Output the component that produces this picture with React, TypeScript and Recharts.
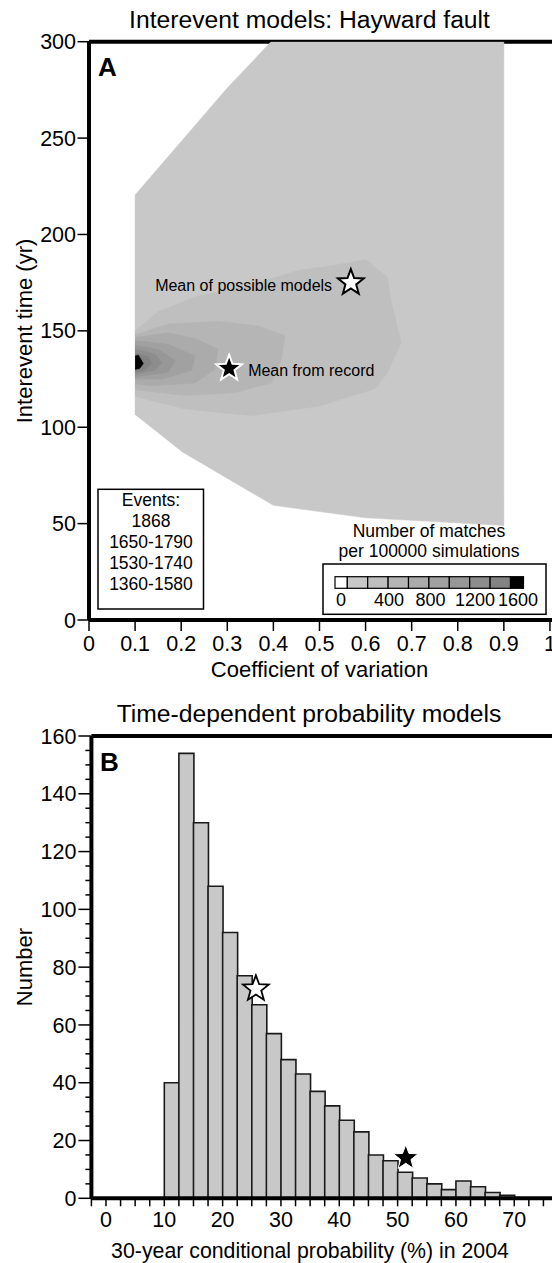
import React from 'react';
import { ComposedChart, XAxis, YAxis, Scatter, Bar } from 'recharts';

const FONT = '"Liberation Sans", Arial, Helvetica, sans-serif';

// ---------------- Panel A data ----------------
const cvTicks = [0, 0.1, 0.2, 0.3, 0.4, 0.5, 0.6, 0.7, 0.8, 0.9, 1];
const cvTickLabels = ['0', '0.1', '0.2', '0.3', '0.4', '0.5', '0.6', '0.7', '0.8', '0.9', '1'];
const yearTicks = [0, 50, 100, 150, 200, 250, 300];

// contour outlines, [coefficient of variation, interevent time]
const level1 = [[0.1, 106.5], [0.1, 220.5], [0.3, 276], [0.395, 300], [0.9, 300], [0.9, 49], [0.6, 53], [0.4, 59.5], [0.2, 87.5]];
const level2 = [[0.1, 150], [0.15, 160], [0.235, 168], [0.34, 173], [0.456, 181.5], [0.533, 184], [0.6, 187], [0.647, 178], [0.655, 166], [0.677, 144], [0.647, 128], [0.62, 120], [0.5, 111], [0.353, 106], [0.208, 109.5], [0.1, 116]];
const level3 = [[0.1, 148], [0.172, 153.5], [0.28, 155], [0.367, 152.5], [0.425, 147.5], [0.418, 135.5], [0.396, 123], [0.317, 118], [0.208, 116.5], [0.1, 119.5]];
const level4 = [[0.1, 146.5], [0.172, 149], [0.23, 146], [0.28, 140.5], [0.273, 130], [0.23, 123], [0.136, 121.5], [0.1, 122.5]];
const level5 = [[0.1, 145], [0.172, 143], [0.23, 137], [0.223, 129.5], [0.158, 125], [0.1, 125]];
const level6 = [[0.1, 142.5], [0.15, 140.5], [0.187, 134.5], [0.172, 128.5], [0.1, 126]];
const level7 = [[0.1, 140.5], [0.143, 138], [0.158, 133.5], [0.143, 129.5], [0.1, 127.5]];
const level8 = [[0.1, 138.5], [0.129, 136.5], [0.136, 133], [0.121, 129.5], [0.1, 128.5]];
const level9 = [[0.1, 137], [0.107, 137.5], [0.118, 133], [0.11, 130.5], [0.1, 130]];
const contourLevels = [level1, level2, level3, level4, level5, level6, level7, level8, level9];
const contourFills = ['#c8c8c8', '#bfbfbf', '#b5b5b5', '#ababab', '#a1a1a1', '#979797', '#8d8d8d', '#838383', '#000000'];

const meanPossible = { x: 0.568, y: 175, label: 'Mean of possible models' };
const meanRecord = { x: 0.304, y: 130.5, label: 'Mean from record' };

const eventLines = ['Events:', '1868', '1650-1790', '1530-1740', '1360-1580'];
const legendTitle = ['Number of matches', 'per 100000 simulations'];
const legendTickValues = [0, 400, 800, 1200, 1600];
const legendFills = ['#ffffff', '#c8c8c8', '#bfbfbf', '#b5b5b5', '#ababab', '#a1a1a1', '#979797', '#8d8d8d', '#838383', '#000000'];

// ---------------- Panel B data ----------------
const binStarts = [10, 12.5, 15, 17.5, 20, 22.5, 25, 27.5, 30, 32.5, 35, 37.5, 40, 42.5, 45, 47.5, 50, 52.5, 55, 57.5, 60, 62.5, 65, 67.5];
const binCounts = [40, 154, 130, 108, 92, 77, 67, 57, 48, 43, 37, 32, 27, 23, 15, 13, 9, 7, 5, 3, 6, 4, 2, 1];
const probTicks = Array.from({ length: 33 }, (_, i) => -2.5 + i * 2.5);
const probLabelTicks = [0, 10, 20, 30, 40, 50, 60, 70];
const countTicks = Array.from({ length: 33 }, (_, i) => i * 5);
const countLabelTicks = [0, 20, 40, 60, 80, 100, 120, 140, 160];
const starPossibleB = { x: 25.7, y: 72.5 };
const starRecordB = { x: 51.4, y: 14 };

// one category per 2.5% bin across the whole axis (empty bins have no bar)
const histData = probTicks.slice(0, -1).map((s) => {
  const k = binStarts.indexOf(s);
  return { bin: String(s), count: k >= 0 ? binCounts[k] : null };
});

// ---------------- helpers ----------------
function starPoints(cx: number, cy: number, r: number) {
  const pts: string[] = [];
  for (let i = 0; i < 10; i++) {
    const rad = i % 2 === 0 ? r : r * 0.42;
    const a = -Math.PI / 2 + (i * Math.PI) / 5;
    pts.push(`${cx + rad * Math.cos(a)},${cy + rad * Math.sin(a)}`);
  }
  return pts.join(' ');
}

const axisLine = { stroke: '#000', strokeWidth: 4 };
const TICK_FS = 21.5;

const CvTick = (p: any) => {
  const idx = cvTicks.indexOf(p.payload.value);
  return (
    <g>
      <line x1={p.x} y1={p.y} x2={p.x} y2={p.y + 11} stroke="#000" strokeWidth={1.5} />
      <text x={p.x} y={p.y + 31} textAnchor="middle" fontSize={TICK_FS} fontFamily={FONT} fill="#000">
        {idx >= 0 ? cvTickLabels[idx] : ''}
      </text>
    </g>
  );
};

const YearTick = (p: any) => (
  <g>
    <line x1={p.x - 11.5} y1={p.y} x2={p.x} y2={p.y} stroke="#000" strokeWidth={1.5} />
    <text x={p.x - 13} y={p.y + 7.6} textAnchor="end" fontSize={TICK_FS} fontFamily={FONT} fill="#000">
      {p.payload.value}
    </text>
  </g>
);

const ProbTick = (p: any) => {
  const v = p.payload.value;
  const lab = probLabelTicks.includes(v);
  return (
    <g>
      <line x1={p.x} y1={p.y} x2={p.x} y2={p.y + 8} stroke="#000" strokeWidth={1.5} />
      {lab && (
        <text x={p.x} y={p.y + 29} textAnchor="middle" fontSize={TICK_FS} fontFamily={FONT} fill="#000">
          {v}
        </text>
      )}
    </g>
  );
};

const CountTick = (p: any) => {
  const v = p.payload.value;
  const lab = countLabelTicks.includes(v);
  return (
    <g>
      <line x1={p.x - (lab ? 13 : 6)} y1={p.y} x2={p.x} y2={p.y} stroke="#000" strokeWidth={1.5} />
      {lab && (
        <text x={p.x - 15} y={p.y + 7.6} textAnchor="end" fontSize={TICK_FS} fontFamily={FONT} fill="#000">
          {v}
        </text>
      )}
    </g>
  );
};

const emptyShape = () => <g />;

const PossibleStarA = (p: any) => (
  <g>
    <polygon points={starPoints(p.cx, p.cy, 13.5)} fill="#fff" stroke="#000" strokeWidth={2} />
    <text x={p.cx - 18.7} y={p.cy + 8.4} textAnchor="end" fontSize={16} fontFamily={FONT} fill="#000">
      {p.payload.label}
    </text>
  </g>
);

const RecordStarA = (p: any) => (
  <g>
    <polygon points={starPoints(p.cx, p.cy, 13.5)} fill="#000" stroke="#fff" strokeWidth={2} />
    <text x={p.cx + 19} y={p.cy + 7.4} textAnchor="start" fontSize={16} fontFamily={FONT} fill="#000">
      {p.payload.label}
    </text>
  </g>
);

const WhiteStarB = (p: any) => (
  <polygon points={starPoints(p.cx, p.cy, 13.5)} fill="#fff" stroke="#000" strokeWidth={1.8} />
);
const BlackStarB = (p: any) => (
  <polygon points={starPoints(p.cx, p.cy, 13)} fill="#000" stroke="#fff" strokeWidth={1} />
);

// legend colour bar layout
const barLeft = 335;
const cellW = (i: number) => (i === 0 ? 12.3 : i === legendFills.length - 1 ? 13 : 20.4);
const cellX = (i: number) => {
  let x = barLeft;
  for (let k = 0; k < i; k++) x += cellW(k);
  return x;
};
const legendLabelX = [341, 389, 430.5, 475, 518];

export default function App() {
  return (
    <div style={{ position: 'absolute', left: 0, top: 0, width: 552, height: 1263, overflow: 'hidden', background: '#fff' }}>
      {/* Panel A */}
      <div style={{ position: 'absolute', left: 0, top: 0 }}>
        <ComposedChart width={620} height={680} margin={{ top: 40.7, right: 47, bottom: 59, left: 88 }} data={[]}>
          <XAxis
            xAxisId="b"
            dataKey="x"
            type="number"
            domain={[0, 1.05]}
            ticks={cvTicks}
            interval={0}
            height={1}
            tickSize={0}
            tickMargin={0}
            tickLine={false}
            axisLine={axisLine}
            tick={CvTick}
            allowDataOverflow
          />
          <XAxis xAxisId="t" orientation="top" type="number" domain={[0, 1.05]} height={1} tick={false} tickLine={false} axisLine={axisLine} allowDataOverflow />
          <YAxis
            dataKey="y"
            type="number"
            domain={[0, 300]}
            ticks={yearTicks}
            interval={0}
            width={1}
            tickSize={0}
            tickMargin={0}
            tickLine={false}
            axisLine={axisLine}
            tick={YearTick}
            allowDataOverflow
          />
          {contourLevels.map((poly, i) => (
            <Scatter
              key={i}
              xAxisId="b"
              data={poly.map(([x, y]) => ({ x, y }))}
              fill={contourFills[i]}
              line={{ fill: contourFills[i], stroke: contourFills[i], strokeWidth: 0.5 }}
              lineJointType="linear"
              shape={emptyShape}
              isAnimationActive={false}
            />
          ))}
          <Scatter xAxisId="b" data={[meanPossible]} shape={PossibleStarA} isAnimationActive={false} />
          <Scatter xAxisId="b" data={[meanRecord]} shape={RecordStarA} isAnimationActive={false} />
        </ComposedChart>
      </div>

      {/* Panel B */}
      <div style={{ position: 'absolute', left: 0, top: 680 }}>
        <ComposedChart width={620} height={583} margin={{ top: 55, right: 62, bottom: 63.7, left: 90.4 }} data={histData} barCategoryGap={0} barGap={0}>
          <XAxis
            xAxisId="n"
            dataKey="x"
            type="number"
            domain={[-2.5, 77.5]}
            ticks={probTicks}
            interval={0}
            height={1}
            tickSize={0}
            tickMargin={0}
            tickLine={false}
            axisLine={axisLine}
            tick={ProbTick}
            allowDataOverflow
          />
          <XAxis xAxisId="c" dataKey="bin" type="category" height={0} hide />
          <XAxis xAxisId="t" orientation="top" type="number" domain={[-2.5, 77.5]} height={1} tick={false} tickLine={false} axisLine={axisLine} allowDataOverflow />
          <YAxis
            type="number"
            domain={[0, 160]}
            ticks={countTicks}
            interval={0}
            width={1}
            tickSize={0}
            tickMargin={0}
            tickLine={false}
            axisLine={axisLine}
            tick={CountTick}
            allowDataOverflow
          />
          <Bar xAxisId="c" dataKey="count" fill="#c8c8c8" stroke="#1a1a1a" strokeWidth={1.6} isAnimationActive={false} />
          <Scatter xAxisId="n" dataKey="y" data={[starPossibleB]} shape={WhiteStarB} isAnimationActive={false} />
          <Scatter xAxisId="n" dataKey="y" data={[starRecordB]} shape={BlackStarB} isAnimationActive={false} />
        </ComposedChart>
      </div>

      {/* Overlay text and boxes */}
      <svg width={552} height={1263} style={{ position: 'absolute', left: 0, top: 0, pointerEvents: 'none' }}>
        <g fontFamily={FONT} fill="#000">
          <text x={309.5} y={28.3} textAnchor="middle" fontSize={24.7}>Interevent models: Hayward fault</text>
          <text x={98} y={76} fontSize={26} fontWeight="bold">A</text>
          <text x={319.5} y={677} textAnchor="middle" fontSize={22}>Coefficient of variation</text>
          <text x={32} y={331} textAnchor="middle" fontSize={22} transform="rotate(-90 32 331)">Interevent time (yr)</text>

          <rect x={98} y={489.3} width={105.5} height={119.7} fill="#fff" stroke="#000" strokeWidth={1.5} />
          {eventLines.map((t, i) => (
            <text key={t} x={151} y={506 + i * 21} textAnchor="middle" fontSize={17.5}>{t}</text>
          ))}

          {legendTitle.map((t, i) => (
            <text key={t} x={429} y={536.7 + i * 20} textAnchor="middle" fontSize={17.5}>{t}</text>
          ))}
          <rect x={323} y={564} width={223} height={50.3} fill="#fff" stroke="#000" strokeWidth={1.5} />
          {legendFills.map((c, i) => (
            <rect key={i} x={cellX(i)} y={576.7} width={cellW(i)} height={11.6} fill={c} stroke="#000" strokeWidth={1.2} />
          ))}
          {legendTickValues.map((v, i) => (
            <text key={v} x={legendLabelX[i]} y={605.5} textAnchor="middle" fontSize={18}>{v}</text>
          ))}

          <text x={309} y={721.7} textAnchor="middle" fontSize={24.7}>Time-dependent probability models</text>
          <text x={100} y={770.7} fontSize={26} fontWeight="bold">B</text>
          <text x={32} y={967} textAnchor="middle" fontSize={22} transform="rotate(-90 32 967)">Number</text>
          <text x={310} y={1258.3} textAnchor="middle" fontSize={21.3}>30-year conditional probability (%) in 2004</text>
        </g>
      </svg>
    </div>
  );
}
